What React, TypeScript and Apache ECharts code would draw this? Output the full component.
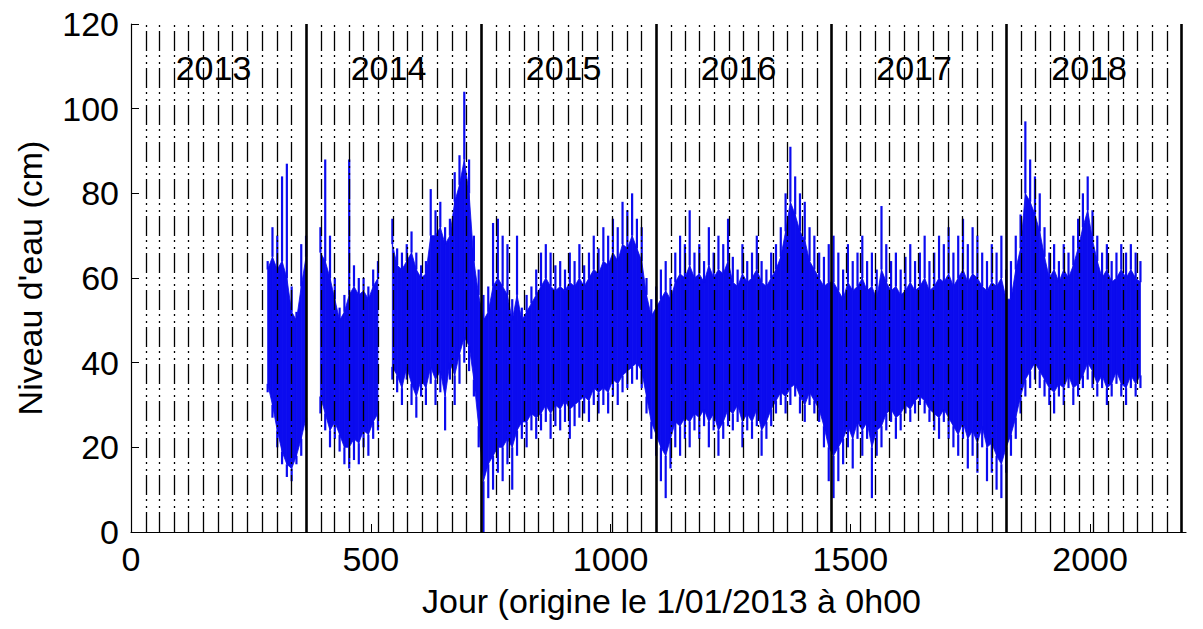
import React, { useEffect, useRef } from "react";
import * as echarts from "echarts";

// Water level (cm), one sample every 10 days from day 285.
// high/low: extreme values reached; coreHigh/coreLow: bounds of the dense band.
const firstDay = 285;
const stepDays = 10;

const high2013 = [64, 72, 70, 84, 87, 58, 52, 68, 70, null, null];
const low2013 = [33, 27, 20, 16, 13, 12, 16, 18, 24, null, null];
const coreHigh2013 = [62, 65, 62, 64, 60, 52, 50, 58, 65, null, null];
const coreLow2013 = [35, 30, 24, 19, 16, 15, 18, 22, 27, null, null];

const high2014 = [72, 88, 70, 60, 53, 56, 88, 63, 60, 60, 58, 62, 64, null, null,
  74, 67, 66, 68, 71, 66, 63, 64, 81, 76, 78, 72, 74, 85, 89, 104, 88, 70, 62];
const low2014 = [28, 24, 20, 22, 19, 16, 15, 17, 16, 20, 18, 22, 24, null, null,
  36, 33, 30, 36, 30, 27, 32, 30, 35, 30, 33, 24, 36, 30, 35, 40, 38, 32, 20];
const coreHigh2014 = [66, 64, 60, 55, 50, 52, 56, 58, 56, 57, 55, 58, 60, null, null,
  68, 63, 62, 64, 66, 62, 60, 61, 70, 70, 72, 68, 70, 78, 82, 88, 80, 64, 56];
const coreLow2014 = [32, 28, 24, 26, 23, 20, 20, 22, 21, 24, 23, 26, 28, null, null,
  39, 37, 34, 39, 35, 32, 36, 34, 39, 36, 38, 32, 40, 37, 42, 46, 44, 36, 25];

const high2015 = [56, 58, 73, 74, 70, 68, 55, 70, 53, 56, 58, 62, 66, 68, 66, 63,
  64, 62, 66, 64, 68, 63, 66, 70, 67, 72, 70, 74, 72, 78, 76, 80, 74, 72, 60, 55, 58];
const low2015 = [0, 8, 10, 14, 12, 16, 10, 18, 22, 20, 24, 22, 24, 26, 22, 25,
  24, 26, 22, 25, 27, 28, 26, 30, 28, 30, 28, 32, 30, 33, 34, 35, 36, 34, 28, 22, 18];
const coreHigh2015 = [50, 52, 58, 60, 58, 56, 50, 56, 50, 52, 54, 56, 58, 60, 58, 57,
  58, 57, 59, 58, 60, 58, 60, 62, 61, 64, 63, 66, 64, 68, 67, 70, 67, 64, 56, 51, 53];
const coreLow2015 = [12, 16, 18, 20, 20, 22, 20, 24, 26, 26, 28, 27, 28, 30, 28, 30,
  29, 31, 29, 30, 31, 32, 31, 34, 33, 34, 33, 36, 35, 37, 38, 39, 40, 38, 32, 26, 23];

const high2016 = [62, 64, 60, 66, 70, 68, 76, 66, 68, 64, 72, 66, 70, 68, 74, 65, 62, 68,
  64, 66, 70, 64, 62, 66, 68, 72, 80, 91, 84, 80, 78, 72, 70, 66, 65, 68];
const low2016 = [12, 8, 15, 20, 18, 22, 20, 24, 22, 25, 20, 24, 18, 22, 25, 24, 26, 20,
  24, 22, 25, 18, 22, 25, 28, 30, 28, 30, 32, 28, 26, 30, 28, 26, 20, 12];
const coreHigh2016 = [55, 57, 55, 59, 61, 60, 63, 60, 61, 59, 63, 60, 62, 61, 64, 59, 58, 61,
  59, 60, 62, 59, 58, 60, 62, 65, 71, 78, 75, 71, 69, 64, 62, 60, 58, 59];
const coreLow2016 = [20, 18, 22, 26, 25, 27, 26, 28, 27, 29, 26, 28, 24, 26, 29, 28, 30, 26,
  28, 26, 29, 24, 26, 29, 31, 33, 32, 34, 35, 32, 30, 33, 31, 29, 25, 20];

const high2017 = [70, 66, 62, 68, 64, 66, 70, 64, 66, 62, 77, 68, 64, 66, 62, 65, 68, 64, 66,
  70, 64, 66, 70, 68, 72, 66, 70, 74, 68, 72, 70, 66, 64, 68, 66, 70, 62];
const low2017 = [8, 12, 16, 20, 15, 22, 18, 22, 8, 18, 20, 24, 26, 22, 24, 28, 26, 28, 30,
  28, 26, 24, 22, 26, 22, 20, 18, 22, 15, 18, 14, 20, 12, 14, 10, 8, 14];
const coreHigh2017 = [59, 57, 55, 59, 57, 58, 60, 57, 58, 55, 62, 59, 57, 58, 56, 57, 59, 57, 58,
  60, 57, 58, 60, 59, 61, 58, 60, 62, 59, 61, 60, 58, 57, 59, 58, 60, 55];
const coreLow2017 = [18, 20, 22, 25, 22, 26, 24, 26, 20, 24, 25, 28, 29, 27, 28, 30, 29, 31, 32,
  31, 29, 28, 27, 29, 27, 25, 23, 26, 22, 24, 21, 25, 20, 21, 18, 16, 20];

const high2018 = [64, 70, 75, 97, 88, 84, 80, 72, 66, 68, 64, 68, 66, 70, 74, 80, 84, 76,
  70, 66, 68, 64, 66, 68, 66, 68, 66, 64];
const low2018 = [18, 22, 28, 32, 34, 36, 34, 32, 30, 28, 32, 30, 34, 30, 32, 34, 36, 34,
  32, 34, 30, 32, 35, 32, 30, 34, 32, 34];
const coreHigh2018 = [55, 62, 67, 80, 78, 75, 71, 65, 60, 62, 59, 62, 60, 63, 67, 72, 76, 69,
  64, 60, 62, 59, 60, 62, 60, 62, 60, 59];
const coreLow2018 = [23, 27, 32, 36, 38, 40, 38, 36, 34, 33, 35, 34, 37, 34, 35, 37, 40, 38,
  35, 37, 34, 35, 38, 35, 34, 37, 35, 37];

type V = number | null;
const highs: V[] = [...high2013, ...high2014, ...high2015, ...high2016, ...high2017, ...high2018];
const lows: V[] = [...low2013, ...low2014, ...low2015, ...low2016, ...low2017, ...low2018];
const coreHighs: V[] = [...coreHigh2013, ...coreHigh2014, ...coreHigh2015, ...coreHigh2016, ...coreHigh2017, ...coreHigh2018];
const coreLows: V[] = [...coreLow2013, ...coreLow2014, ...coreLow2015, ...coreLow2016, ...coreLow2017, ...coreLow2018];

const yearLabels = ["2013", "2014", "2015", "2016", "2017", "2018"];
const yearStarts = [0, 365, 730, 1095, 1461, 1826, 2191];
const xTicks = [0, 500, 1000, 1500, 2000];

const BLUE = "#0b0bef";
const FONT = "'Liberation Sans', Arial, Helvetica, sans-serif";

// First day of every month (days since 1 Jan 2013), year boundaries excluded.
function monthStarts(): number[] {
  const origin = Date.UTC(2013, 0, 1);
  const out: number[] = [];
  for (let y = 2013; y <= 2018; y++) {
    for (let m = 1; m < 12; m++) out.push((Date.UTC(y, m, 1) - origin) / 86400000);
  }
  return out;
}

export default function App() {
  const ref = useRef<HTMLDivElement>(null);

  useEffect(() => {
    if (!ref.current) return;
    const chart = echarts.init(ref.current, undefined, { renderer: "svg" });

    const sampleData = highs.map((h, i) => [firstDay + i * stepDays, h ?? 0]);

    chart.setOption({
      animation: false,
      backgroundColor: "#ffffff",
      grid: { left: 131, right: 17, top: 24, bottom: 97 },
      xAxis: {
        type: "value",
        min: 0,
        max: 2200,
        name: "Jour (origine le 1/01/2013 à 0h00",
        nameLocation: "middle",
        nameGap: 52,
        nameTextStyle: { fontSize: 34, color: "#000", fontFamily: FONT, padding: [0, 0, 0, 26] },
        axisLine: { show: true, onZero: false, lineStyle: { color: "#000", width: 1.2 } },
        axisTick: { show: true, inside: true, length: 8, customValues: xTicks, lineStyle: { color: "#000" } },
        axisLabel: {
          customValues: xTicks,
          margin: 10,
          fontSize: 34,
          color: "#000",
          fontFamily: FONT,
          formatter: (v: number) => String(v),
        },
        splitLine: { show: false },
      },
      yAxis: {
        type: "value",
        min: 0,
        max: 120,
        interval: 20,
        name: "Niveau d'eau (cm)",
        nameLocation: "middle",
        nameGap: 84,
        nameTextStyle: { fontSize: 34, color: "#000", fontFamily: FONT },
        axisLine: { show: true, onZero: false, lineStyle: { color: "#000", width: 1.2 } },
        axisTick: { show: true, inside: true, length: 8, lineStyle: { color: "#000" } },
        axisLabel: { margin: 12, fontSize: 34, color: "#000", fontFamily: FONT, formatter: (v: number) => String(v) },
        splitLine: { show: false },
      },
      series: [
        {
          // monthly grid lines
          type: "line",
          data: [],
          z: 1,
          silent: true,
          markLine: {
            silent: true,
            symbol: ["none", "none"],
            label: { show: false },
            emphasis: { disabled: true },
            lineStyle: { color: "#000", width: 1.3, type: [20, 4, 2, 5, 2, 4] },
            data: monthStarts().map((d) => ({ xAxis: d })),
          },
        },
        {
          type: "custom",
          z: 2,
          silent: true,
          clip: true,
          data: sampleData,
          renderItem: (params: any, api: any) => {
            const i = params.dataIndex;
            const h = highs[i], l = lows[i], ch = coreHighs[i], cl = coreLows[i];
            if (h == null || l == null || ch == null || cl == null) return null;
            const d0 = firstDay + i * stepDays;
            const children: any[] = [];
            const ch1 = coreHighs[i + 1], cl1 = coreLows[i + 1];
            if (ch1 != null && cl1 != null) {
              const d1 = d0 + stepDays;
              children.push({
                type: "polygon",
                shape: { points: [api.coord([d0, ch]), api.coord([d1, ch1]), api.coord([d1, cl1]), api.coord([d0, cl])] },
                style: { fill: BLUE, stroke: BLUE, lineWidth: 0.8 },
              });
            }
            const top = api.coord([d0, h]);
            const coreTop = api.coord([d0, ch]);
            const bottom = api.coord([d0, l]);
            const coreBottom = api.coord([d0, cl]);
            children.push({
              type: "line",
              shape: { x1: top[0], y1: top[1], x2: coreTop[0], y2: coreTop[1] },
              style: { stroke: BLUE, lineWidth: 2.2 },
            });
            children.push({
              type: "line",
              shape: { x1: bottom[0], y1: bottom[1], x2: coreBottom[0], y2: coreBottom[1] },
              style: { stroke: BLUE, lineWidth: 2.2 },
            });
            return { type: "group", children };
          },
        },
        {
          // year boundaries
          type: "line",
          data: [],
          z: 3,
          silent: true,
          markLine: {
            silent: true,
            symbol: ["none", "none"],
            label: { show: false },
            emphasis: { disabled: true },
            lineStyle: { color: "#000", width: 2.6, type: "solid" },
            data: yearStarts.slice(1).map((d) => ({ xAxis: d })),
          },
        },
        {
          type: "scatter",
          z: 4,
          silent: true,
          symbolSize: 0,
          itemStyle: { color: "#000", opacity: 1 },
          data: yearLabels.map((name, i) => ({ name, value: [yearStarts[i] + 172, 109.5] })),
          label: {
            show: true,
            position: "inside",
            formatter: (p: any) => p.name,
            fontSize: 34,
            color: "#000",
            opacity: 1,
            textBorderWidth: 0,
            fontFamily: FONT,
          },
        },
      ],
    });

    return () => chart.dispose();
  }, []);

  return (
    <div
      ref={ref}
      style={{ position: "absolute", left: 0, top: 0, width: 1203, height: 629, background: "#fff" }}
    />
  );
}
